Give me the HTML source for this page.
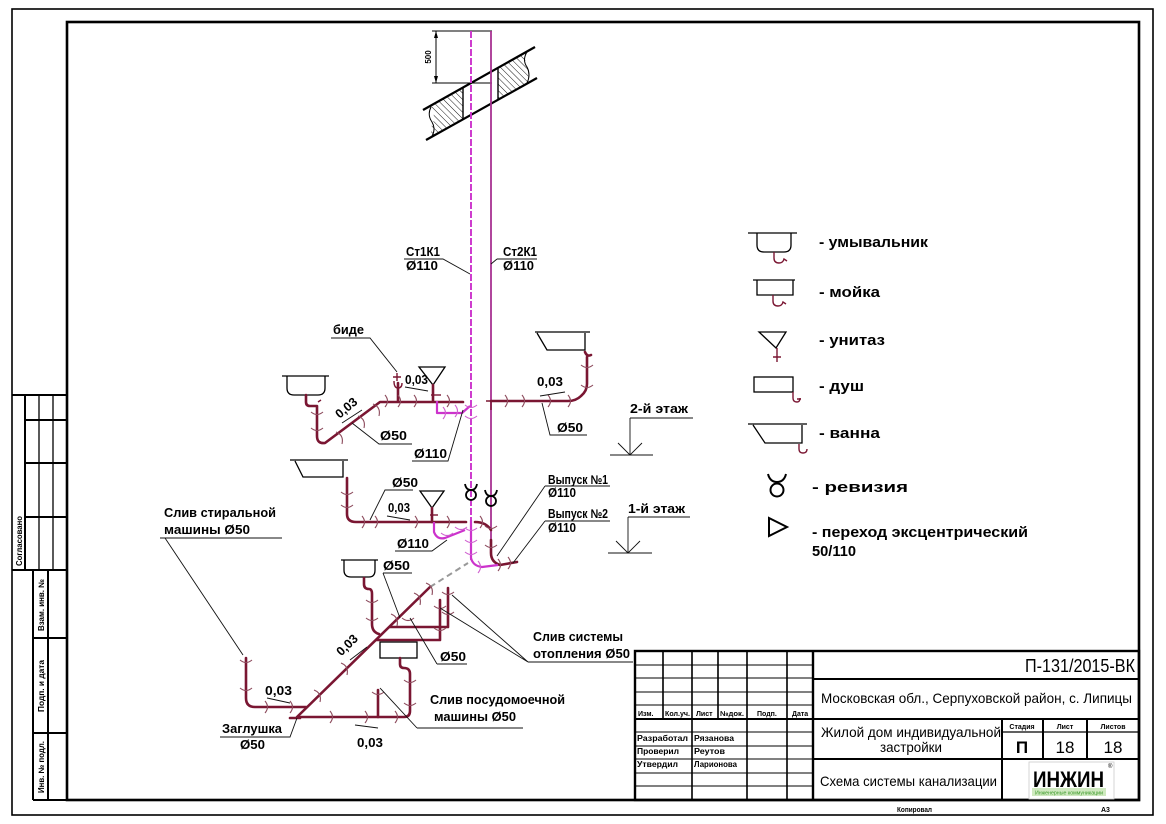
<!DOCTYPE html>
<html><head><meta charset="utf-8">
<style>
html,body{margin:0;padding:0;background:#fff;}
svg{display:block}
text{font-family:"Liberation Sans",Arial,sans-serif;fill:#000}
.l{font-weight:bold;font-size:12.5px}
.lg{font-weight:bold;font-size:15px}
.tb{font-size:14px}
.sm{font-size:7px;font-weight:bold}
.s8{font-size:8px;font-weight:bold}
</style></head><body>
<svg width="1166" height="824" viewBox="0 0 1166 824" xmlns="http://www.w3.org/2000/svg">
<defs>
<pattern id="hatch" patternUnits="userSpaceOnUse" width="4.5" height="4.5" patternTransform="rotate(-45)">
<line x1="0" y1="0" x2="0" y2="4.5" stroke="#000" stroke-width="0.9"/>
</pattern>
</defs>
<rect width="1166" height="824" fill="#fff"/>

<!-- frames -->
<rect x="12" y="9" width="1141" height="806" fill="none" stroke="#000" stroke-width="1.6"/>
<rect x="67" y="22" width="1072" height="778" fill="none" stroke="#000" stroke-width="2.6"/>

<!-- left stamp -->
<g stroke="#000" fill="none">
<path d="M12,395 H67 M12,570 H67 M25,395 V570" stroke-width="2"/>
<path d="M39,395 V570 M53,395 V570" stroke-width="1.3"/>
<path d="M25,420 H67 M25,463 H67 M25,517 H67" stroke-width="2"/>
<path d="M33,570 V800 M48,570 V800" stroke-width="2"/>
<path d="M33,638 H67 M33,733 H67 M33,800 H67" stroke-width="2"/>
</g>
<text class="s8" transform="translate(22,541) rotate(-90)" text-anchor="middle" textLength="50" lengthAdjust="spacingAndGlyphs">Согласовано</text>
<text class="s8" transform="translate(44,605) rotate(-90)" text-anchor="middle" textLength="52" lengthAdjust="spacingAndGlyphs">Взам. инв. №</text>
<text class="s8" transform="translate(44,686) rotate(-90)" text-anchor="middle" textLength="52" lengthAdjust="spacingAndGlyphs">Подп. и дата</text>
<text class="s8" transform="translate(44,767) rotate(-90)" text-anchor="middle" textLength="52" lengthAdjust="spacingAndGlyphs">Инв. № подл.</text>

<!-- slab & dimension -->
<path d="M432,105 L463,87.5 L463,119.3 L433,136.3 Q429,130 433,123 Q436,116 431,110 Z" fill="url(#hatch)"/>
<path d="M498,67.8 L527,51.5 Q523,58 527,65 Q531,72 527,79 L527,83.6 L498,99.8 Z" fill="url(#hatch)"/>
<g stroke="#000" fill="none">
<path d="M431,107 Q427,115 432,122 Q436,129 432,136" stroke-width="1"/>
<path d="M527,52 Q522,60 527,67 Q531,75 527,83" stroke-width="1"/>
<line x1="423" y1="110" x2="535" y2="47" stroke-width="2.2"/>
<line x1="426" y1="140" x2="537" y2="78" stroke-width="2.2"/>
<line x1="463" y1="87.5" x2="463" y2="119.3" stroke-width="1.4"/>
<line x1="498" y1="67.8" x2="498" y2="99.8" stroke-width="1.4"/>
<path d="M432,31 H492 M432,83 H492 M436,31 V83" stroke-width="1"/>
</g>
<path d="M436,31 l-2,7 h4 Z M436,83 l-2,-7 h4 Z" fill="#000"/>
<text class="s8" transform="translate(431,57) rotate(-90)" text-anchor="middle" font-size="9">500</text>

<!-- risers -->
<line x1="471" y1="31" x2="471" y2="560" stroke="#cc33cc" stroke-width="1.9" stroke-dasharray="7,2"/>
<line x1="491" y1="31" x2="491" y2="553" stroke="#a83292" stroke-width="1.8"/>

<!-- fixtures (black outlines) -->
<g stroke="#000" fill="none" stroke-width="1.3">
<!-- washbasin 2nd floor -->
<path d="M282,376 H329 M287,376 V388 Q287,395 294,395 H318 Q325,395 325,388 V376"/>
<!-- toilet 2nd -->
<path d="M419,367 H445 L433,385 Z"/>
<!-- bathtub 2nd -->
<path d="M535,332 H590 M537,333 L547,350 H585 V333"/>
<!-- bathtub 1st -->
<path d="M290,460 H348 M295,461 L303,477 H343 V461"/>
<!-- toilet 1st -->
<path d="M420,491 H444 L432,508 Z"/>
<!-- washbasin lower -->
<path d="M341,560 H378 M344,560 V570 Q344,577 351,577 H369 Q375,577 375,570 V560"/>
<!-- shower tray -->
<rect x="380" y="642" width="37" height="16"/>
</g>
<!-- revisions -->
<g stroke="#000" fill="none" stroke-width="1.8">
<circle cx="471" cy="495" r="5"/>
<path d="M465,484 Q466,490 471,490 Q476,490 477,484"/>
<circle cx="491" cy="501" r="5"/>
<path d="M485,490 Q486,496 491,496 Q496,496 497,490"/>
</g>

<!-- pipes maroon -->
<g stroke="#7a1632" stroke-width="2.6" fill="none" stroke-linecap="round" stroke-linejoin="round">
<path d="M306,395 V402 Q306,406 310,406 H317 V436 Q317,444 325,443 L380,402 H463"/>
<path d="M491,401 H568 Q576,401 581,396 Q587,391 587,384 V357"/>
<path d="M585,352 Q587,357 591,355"/>
<path d="M433,385 V401"/>
<path d="M398,383 V401"/>
<path d="M347,478 V514 Q347,522 356,522 H466"/>
<path d="M432,508 V522"/>
<path d="M475,522 Q486,522 491,530"/>
<path d="M491,540 V553 Q491,562 500,565 L517,562"/>
<path d="M297,717 L430,587"/>
<path d="M364,578 V584 Q364,589 369,589 Q372,589 372,594 V624 Q372,632 379,634"/>
<path d="M448,588 V627 H390"/>
<path d="M440,600 V640 H377"/>
<path d="M400,658 V664 Q400,668 404,668 Q410,668 410,674 V711 Q410,717 404,717 H300"/>
<path d="M378,690 V717"/>
<path d="M246,658 V698 Q246,707 255,707 H306"/>
<path d="M290,718 H300"/>
</g>
<g stroke="#7a1632" stroke-width="1.4" fill="none">
<path d="M393,377 H401 M397,373 V381 M394,381 Q394,388 398,388 Q402,388 402,383"/>
<path d="M431,395 H441"/>
<path d="M430,515 H438"/>
<path d="M486,401 H496 M491,401 V410"/>
<path d="M318,402 l3,-2"/>
</g>
<!-- magenta 110 pieces -->
<g stroke="#cc33cc" stroke-width="2.2" fill="none" stroke-linejoin="round">
<path d="M437,401 V413 H462 L470,406"/>
<path d="M434,522 V532 Q437,540 445,538 L465,530"/>
<path d="M471,520 V558 Q473,566 482,567 L498,565"/>
</g>
<path d="M430,587 L468,563" stroke="#999" stroke-width="2" stroke-dasharray="6,4" fill="none"/>

<!-- fittings -->
<g stroke="#8c4a5c" stroke-width="1.1" fill="none">
<path d="M385,395 q5,6 0,12 M398,395 q5,6 0,12 M414,395 q5,6 0,12 M447,395 q5,6 0,12 M505,395 q5,6 0,12 M522,395 q5,6 0,12 M548,395 q5,6 0,12 M568,395 q5,6 0,12"/>
<path d="M311,412 q6,5 12,0 M311,428 q6,5 12,0 M581,365 q6,5 12,0 M581,385 q6,5 12,0"/>
<path d="M336,432 q8,3 6,12 M358,416 q8,3 6,12 M373,404 q8,3 6,12"/>
<path d="M362,516 q5,6 0,12 M375,516 q5,6 0,12 M415,516 q5,6 0,12 M447,516 q5,6 0,12 M480,516 q5,6 0,12"/>
<path d="M341,492 q6,5 12,0 M341,505 q6,5 12,0 M366,600 q6,5 12,0 M366,618 q6,5 12,0"/>
<path d="M442,592 q6,5 12,0 M442,612 q6,5 12,0 M434,606 q6,5 12,0 M434,628 q6,5 12,0"/>
<path d="M330,711 q5,6 0,12 M365,711 q5,6 0,12 M395,711 q5,6 0,12 M404,680 q6,5 12,0 M404,703 q6,5 12,0"/>
<path d="M240,660 q6,5 12,0 M240,688 q6,5 12,0 M265,701 q5,6 0,12 M290,701 q5,6 0,12 M372,692 q6,5 12,0"/>
<path d="M314,690 q8,3 6,12 M341,663 q8,3 6,12 M391,614 q8,3 6,12 M414,593 q8,3 6,12 M426,583 q8,3 6,12 M402,618 q6,5 12,0"/>
<path d="M485,526 q6,5 12,0 M485,545 q6,5 12,0 M498,559 q5,6 0,12 M508,557 q5,6 0,12"/>
</g>
<g stroke="#d060d0" stroke-width="1.1" fill="none">
<path d="M465,405 q6,5 12,0 M465,416 q6,5 12,0 M465,528 q6,5 12,0 M465,540 q6,5 12,0 M465,552 q6,5 12,0 M441,533 q6,5 12,0 M455,527 q6,5 12,0 M443,407 q5,6 0,12 M455,405 q5,6 0,12 M478,561 q5,6 0,12"/>
</g>

<!-- leaders & underlines -->
<g stroke="#111" stroke-width="0.9" fill="none">
<path d="M404,259 H443 L470,274"/>
<path d="M497,259 H537 M491,264 L497,259"/>
<path d="M331,338 H370 L397,372"/>
<path d="M405,387 L428,391"/>
<path d="M342,423 L362,410"/>
<path d="M352,423 L379,444 H412"/>
<path d="M412,461 H448 L463,410"/>
<path d="M540,396 L565,392"/>
<path d="M542,403 L550,435 H587"/>
<path d="M370,520 L385,490 H413"/>
<path d="M387,516 L410,520"/>
<path d="M395,551 H432 L447,540"/>
<path d="M545,486 H610 M545,486 L497,556"/>
<path d="M545,521 H610 M545,521 L513,563"/>
<path d="M160,538 H282 M165,538 L243,655"/>
<path d="M383,573 H412 M383,573 L400,618"/>
<path d="M350,660 L367,647"/>
<path d="M528,662 H633 M528,662 L452,595 M528,662 L440,608"/>
<path d="M437,664 H467 M437,664 L410,618"/>
<path d="M267,698 L290,703"/>
<path d="M417,728 H523 M417,728 L380,688"/>
<path d="M220,737 H290 L297,718"/>
<path d="M355,725 L378,728"/>
<path d="M630,418 H693 M630,418 V455 M610,455 H653 M618,443 L630,455 L642,443"/>
<path d="M628,517 H690 M628,517 V553 M608,553 H652 M616,541 L628,553 L640,541"/>
</g>

<!-- diagram labels -->
<text class="l" x="406" y="256" textLength="34" lengthAdjust="spacingAndGlyphs">Ст1К1</text>
<text class="l" x="406" y="270" textLength="32" lengthAdjust="spacingAndGlyphs">Ø110</text>
<text class="l" x="503" y="256" textLength="34" lengthAdjust="spacingAndGlyphs">Ст2К1</text>
<text class="l" x="503" y="270" textLength="31" lengthAdjust="spacingAndGlyphs">Ø110</text>
<text class="l" x="333" y="334" textLength="31" lengthAdjust="spacingAndGlyphs">биде</text>
<text class="l" x="405" y="384" textLength="23" lengthAdjust="spacingAndGlyphs">0,03</text>
<text class="l" transform="translate(349,411) rotate(-40)" text-anchor="middle">0,03</text>
<text class="l" x="380" y="440" textLength="27" lengthAdjust="spacingAndGlyphs">Ø50</text>
<text class="l" x="414" y="458" textLength="33" lengthAdjust="spacingAndGlyphs">Ø110</text>
<text class="l" x="537" y="386" textLength="26" lengthAdjust="spacingAndGlyphs">0,03</text>
<text class="l" x="557" y="432" textLength="26" lengthAdjust="spacingAndGlyphs">Ø50</text>
<text class="l" x="630" y="413" textLength="58" lengthAdjust="spacingAndGlyphs">2-й этаж</text>
<text class="l" x="392" y="487" textLength="26" lengthAdjust="spacingAndGlyphs">Ø50</text>
<text class="l" x="388" y="512" textLength="22" lengthAdjust="spacingAndGlyphs">0,03</text>
<text class="l" x="397" y="548" textLength="32" lengthAdjust="spacingAndGlyphs">Ø110</text>
<text class="l" x="548" y="484" textLength="60" lengthAdjust="spacingAndGlyphs">Выпуск №1</text>
<text class="l" x="548" y="497" textLength="28" lengthAdjust="spacingAndGlyphs">Ø110</text>
<text class="l" x="548" y="518" textLength="60" lengthAdjust="spacingAndGlyphs">Выпуск №2</text>
<text class="l" x="548" y="532" textLength="28" lengthAdjust="spacingAndGlyphs">Ø110</text>
<text class="l" x="628" y="513" textLength="57" lengthAdjust="spacingAndGlyphs">1-й этаж</text>
<text class="l" x="164" y="517" textLength="112" lengthAdjust="spacingAndGlyphs">Слив стиральной</text>
<text class="l" x="164" y="534" textLength="86" lengthAdjust="spacingAndGlyphs">машины Ø50</text>
<text class="l" x="383" y="570" textLength="27" lengthAdjust="spacingAndGlyphs">Ø50</text>
<text class="l" transform="translate(350,648) rotate(-44)" text-anchor="middle">0,03</text>
<text class="l" x="533" y="641" textLength="90" lengthAdjust="spacingAndGlyphs">Слив системы</text>
<text class="l" x="533" y="658" textLength="97" lengthAdjust="spacingAndGlyphs">отопления Ø50</text>
<text class="l" x="440" y="661" textLength="26" lengthAdjust="spacingAndGlyphs">Ø50</text>
<text class="l" x="265" y="695" textLength="27" lengthAdjust="spacingAndGlyphs">0,03</text>
<text class="l" x="430" y="704" textLength="135" lengthAdjust="spacingAndGlyphs">Слив посудомоечной</text>
<text class="l" x="434" y="721" textLength="82" lengthAdjust="spacingAndGlyphs">машины Ø50</text>
<text class="l" x="222" y="733" textLength="60" lengthAdjust="spacingAndGlyphs">Заглушка</text>
<text class="l" x="240" y="749" textLength="25" lengthAdjust="spacingAndGlyphs">Ø50</text>
<text class="l" x="357" y="747" textLength="26" lengthAdjust="spacingAndGlyphs">0,03</text>

<!-- legend -->
<g stroke="#000" fill="none" stroke-width="1.3">
<path d="M748,233 H797 M757,233 V245 Q757,252 764,252 H784 Q791,252 791,245 V233"/>
<path d="M753,280 H795 M757,280 V295 H793 V280"/>
<path d="M759,332 H786 L776,348 Z"/>
<rect x="754" y="377" width="39" height="15"/>
<path d="M748,424 H807 M753,425 L765,443 H802 V425"/>
</g>
<g stroke="#000" fill="none" stroke-width="2">
<circle cx="777" cy="490" r="6.5"/>
<path d="M768,474 Q770,482 777,482 Q784,482 786,474"/>
<path d="M769,518 L787,527 L769,536 Z"/>
</g>
<g stroke="#7a1632" fill="none" stroke-width="1.4">
<path d="M774,252 V258 Q774,263 779,263 Q783,263 784,259 l3,2"/>
<path d="M773,295 V301 Q773,306 778,306 Q782,306 783,302 l3,2"/>
<path d="M777,348 V362 M773,357 H781"/>
<path d="M793,392 V398 Q793,402 797,402 Q800,402 800,398 M797,399 h4"/>
<path d="M799,444 V449 Q799,453 803,453 Q807,453 807,449"/>
</g>
<text class="lg" x="819" y="247" textLength="109" lengthAdjust="spacingAndGlyphs">- умывальник</text>
<text class="lg" x="819" y="297" textLength="61" lengthAdjust="spacingAndGlyphs">- мойка</text>
<text class="lg" x="819" y="345" textLength="66" lengthAdjust="spacingAndGlyphs">- унитаз</text>
<text class="lg" x="819" y="391" textLength="45" lengthAdjust="spacingAndGlyphs">- душ</text>
<text class="lg" x="819" y="438" textLength="61" lengthAdjust="spacingAndGlyphs">- ванна</text>
<text class="lg" x="812" y="492" textLength="96" lengthAdjust="spacingAndGlyphs">- ревизия</text>
<text class="lg" x="812" y="537" textLength="216" lengthAdjust="spacingAndGlyphs">- переход эксцентрический</text>
<text class="lg" x="812" y="556" textLength="44" lengthAdjust="spacingAndGlyphs">50/110</text>

<!-- title block -->
<g stroke="#000" fill="none">
<rect x="635" y="651" width="504" height="149" stroke-width="2.4"/>
<path d="M813,651 V800" stroke-width="2.4"/>
<path d="M663,651 V719 M718,651 V719" stroke-width="1.6"/>
<path d="M692,651 V800 M747,651 V800 M787,651 V800" stroke-width="1.6"/>
<path d="M635,665 H813 M635,678 H813 M635,692 H813 M635,705 H813 M635,732 H813 M635,746 H813 M635,759 H813 M635,773 H813 M635,786 H813" stroke-width="1.1"/>
<path d="M635,719 H813" stroke-width="2"/>
<path d="M813,679 H1139 M813,719 H1139 M813,759 H1139" stroke-width="2"/>
<path d="M1002,732 H1139" stroke-width="1.2"/>
<path d="M1002,719 V800 M1043,719 V759 M1087,719 V759" stroke-width="2"/>
</g>
<text class="sm" x="638" y="716">Изм.</text>
<text class="sm" x="665" y="716" textLength="25" lengthAdjust="spacingAndGlyphs">Кол.уч.</text>
<text class="sm" x="696" y="716">Лист</text>
<text class="sm" x="720" y="716" textLength="24" lengthAdjust="spacingAndGlyphs">№док.</text>
<text class="sm" x="757" y="716">Подп.</text>
<text class="sm" x="792" y="716">Дата</text>
<text class="s8" x="637" y="741" textLength="51" lengthAdjust="spacingAndGlyphs">Разработал</text>
<text class="s8" x="694" y="741" textLength="40" lengthAdjust="spacingAndGlyphs">Рязанова</text>
<text class="s8" x="637" y="754" textLength="42" lengthAdjust="spacingAndGlyphs">Проверил</text>
<text class="s8" x="694" y="754" textLength="31" lengthAdjust="spacingAndGlyphs">Реутов</text>
<text class="s8" x="637" y="767" textLength="41" lengthAdjust="spacingAndGlyphs">Утвердил</text>
<text class="s8" x="694" y="767" textLength="43" lengthAdjust="spacingAndGlyphs">Ларионова</text>

<text x="1025" y="672" font-size="18" textLength="110" lengthAdjust="spacingAndGlyphs">П-131/2015-ВК</text>
<text class="tb" x="821" y="703" textLength="311" lengthAdjust="spacingAndGlyphs">Московская обл., Серпуховской район, с. Липицы</text>
<text class="tb" x="821" y="737" textLength="180" lengthAdjust="spacingAndGlyphs">Жилой дом индивидуальной</text>
<text class="tb" x="880" y="752" textLength="62" lengthAdjust="spacingAndGlyphs">застройки</text>
<text class="tb" x="820" y="786" textLength="177" lengthAdjust="spacingAndGlyphs">Схема системы канализации</text>
<text class="sm" x="1022" y="729" text-anchor="middle">Стадия</text>
<text class="sm" x="1065" y="729" text-anchor="middle">Лист</text>
<text class="sm" x="1113" y="729" text-anchor="middle">Листов</text>
<text x="1022" y="753" font-size="17" text-anchor="middle" font-weight="bold">П</text>
<text x="1065" y="753" font-size="17" text-anchor="middle">18</text>
<text x="1113" y="753" font-size="17" text-anchor="middle">18</text>

<!-- logo -->
<rect x="1029" y="762" width="85" height="37" fill="#fff" stroke="#ccc" stroke-width="0.8"/>
<rect x="1032" y="788" width="74" height="8" fill="#cfe9bf"/>
<text x="1033" y="787" font-size="22" font-weight="bold" textLength="71" lengthAdjust="spacingAndGlyphs">ИНЖИН</text>
<text x="1035" y="794.5" font-size="5" fill="#3c9a2a" textLength="68" lengthAdjust="spacingAndGlyphs" style="fill:#3c9a2a">Инженерные коммуникации</text>
<text x="1108" y="768" font-size="6">®</text>

<text class="sm" x="897" y="812" textLength="35" lengthAdjust="spacingAndGlyphs">Копировал</text>
<text class="sm" x="1101" y="812">А3</text>
</svg>
</body></html>
